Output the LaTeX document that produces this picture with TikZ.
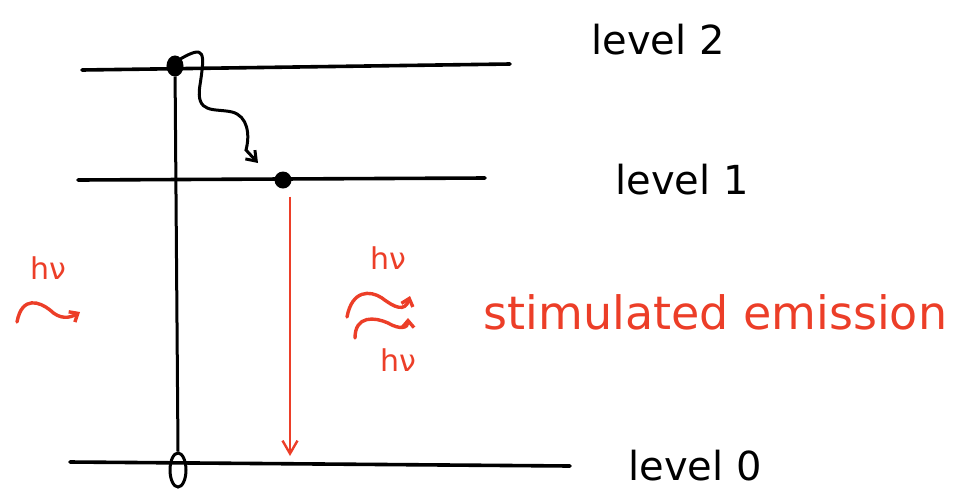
\documentclass[tikz,border=0pt]{standalone}
\usepackage{fontspec}
\setmainfont{DejaVu Sans}
\usetikzlibrary{arrows.meta,shapes.geometric}
\definecolor{handred}{RGB}{236,62,40}
\tikzset{
  level/.style={line width=3.6pt,line cap=round},
  lbl/.style={font=\fontsize{40}{46}\selectfont,anchor=west},
  redlbl/.style={font=\fontsize{30}{36}\selectfont,text=handred},
  wave/.style={handred,line width=3.4pt,line cap=round,-{Straight Barb[length=7pt,width=12pt]}},
}
\begin{document}
\begin{tikzpicture}[x=1pt,y=-1pt]
\useasboundingbox (0,0) rectangle (957,496);
% levels
\coordinate (l2a) at (82,70); \coordinate (l2b) at (510,64);
\coordinate (l1a) at (78,180); \coordinate (l1b) at (485,178);
\coordinate (l0a) at (70,462); \coordinate (l0b) at (570,466);
\draw[level] (l2a) -- (l2b);
\draw[level] (l1a) -- (l1b);
\draw[level] (l0a) -- (l0b);
% vertical excitation
\node (top) [draw,fill,ellipse,inner sep=0pt,minimum width=14pt,minimum height=18pt,line width=3pt] at (175,66) {};
\node (bot) [draw,ellipse,inner sep=0pt,minimum width=16pt,minimum height=34pt,line width=3pt] at (178,470) {};
\draw[line width=3pt] (top) -- (bot.north);
% decay wavy arrow
\coordinate (we) at (258,163);
\draw[line width=3pt,line cap=round,-{Straight Barb[length=9pt,width=13pt]}] (top.north east) .. controls (205,45) and (205,52) .. (200,85)
  .. controls (195,115) and (215,108) .. (232,112)
  .. controls (248,116) and (250,135) .. (246,150) -- (we);
% electron in level 1
\node (dot) [circle,fill,inner sep=0pt,minimum size=17pt] at (283,180) {};
% stimulated emission arrow
\coordinate (eb) at (290,456);
\draw[handred,line width=2.4pt,-{Straight Barb[length=13pt,width=15pt]}] ([yshift=-8pt,xshift=7pt]dot.south) -- (eb);
% labels
\node[lbl] (L2) at (588,40) {level 2};
\node[lbl] (L1) at (612,180) {level 1};
\node[lbl] (L0) at (625,466) {level 0};
% incoming photon
\node[redlbl] (hv1) at (48,268) {hν};
\coordinate (w1a) at (17,322); \coordinate (w1b) at (80,312);
\draw[wave] (w1a) .. controls (22,295) and (40,302) .. (50,310) .. controls (60,320) and (70,318) .. (w1b);
% emitted photons
\node[redlbl] (hv2) at (388,258) {hν};
\draw[wave] (347,317) .. controls (352,290) and (370,290) .. (382,298) .. controls (395,308) and (405,312) .. (410,296);
\draw[wave] (355,338) .. controls (355,315) and (375,317) .. (388,323) .. controls (400,330) and (408,328) .. (408,318);
\node[redlbl] (hv3) at (398,360) {hν};
\node[lbl,text=handred,font=\fontsize{46}{52}\selectfont] (se) at (480,312) {stimulated emission};
\end{tikzpicture}
\end{document}
